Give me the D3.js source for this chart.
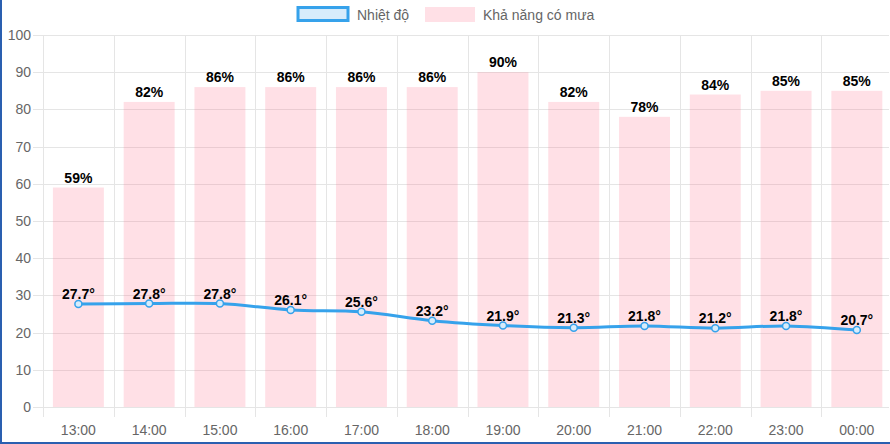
<!DOCTYPE html>
<html><head><meta charset="utf-8">
<script src="https://cdn.jsdelivr.net/npm/d3@7"></script>
<style>
html,body{margin:0;padding:0;background:#fff;}
svg{display:block;font-family:"Liberation Sans",Arial,Helvetica,sans-serif;}
</style></head>
<body>
<svg id="c" width="890" height="444"></svg>
<script>
const categories = ["13:00","14:00","15:00","16:00","17:00","18:00","19:00","20:00","21:00","22:00","23:00","00:00"];
const rainChance = [59,82,86,86,86,86,90,82,78,84,85,85];
const temperature = [27.7,27.8,27.8,26.1,25.6,23.2,21.9,21.3,21.8,21.2,21.8,20.7];
const yTicks = [0,10,20,30,40,50,60,70,80,90,100];
const seriesNames = ["Nhiệt độ","Khả năng có mưa"];

const svg = d3.select("#c");
const W = 890, H = 444;
const m = {left:43, right:1, top:35, bottom:37};
const x = d3.scaleBand().domain(categories).range([m.left, 892.2]);
const y = d3.scaleLinear().domain([0,100]).range([H - m.bottom, m.top]);
const grid = "#e5e5e5";
const txt = "#666";

// frame border (left & bottom)
svg.append("rect").attr("x",0).attr("y",0).attr("width",2).attr("height",H).attr("fill","#2a5fb0");
svg.append("rect").attr("x",0).attr("y",H-2).attr("width",W).attr("height",2).attr("fill","#2a5fb0");

// horizontal grid + y ticks
const gy = svg.append("g");
yTicks.forEach(t => {
  gy.append("line").attr("x1",m.left-10).attr("x2",W-m.right).attr("y1",Math.round(y(t))+0.5).attr("y2",Math.round(y(t))+0.5).attr("stroke",grid).attr("stroke-width",1);
  gy.append("text").attr("x",m.left-12).attr("y",y(t)).attr("dy","0.35em").attr("text-anchor","end")
    .attr("fill",txt).attr("font-size",14).text(t);
});
// vertical grid (offset)
const bounds = categories.map(c => x(c));
bounds.forEach(b => {
  const xx = Math.round(b)+0.5;
  svg.append("line").attr("x1",xx).attr("x2",xx).attr("y1",m.top).attr("y2",H-m.bottom+10).attr("stroke",grid);
});
// x labels
categories.forEach(c => {
  svg.append("text").attr("x",x(c)+x.bandwidth()/2).attr("y",H-m.bottom+28).attr("text-anchor","middle")
    .attr("fill",txt).attr("font-size",14).text(c);
});

// bars
const bw = x.bandwidth()*0.72;
svg.append("g").selectAll("rect").data(rainChance).join("rect")
  .attr("x",(d,i)=>x(categories[i])+(x.bandwidth()-bw)/2)
  .attr("y",d=>y(d)).attr("width",bw).attr("height",d=>y(0)-y(d))
  .attr("fill","rgba(255,99,132,0.2)");

// bar labels
svg.append("g").selectAll("text").data(rainChance).join("text")
  .attr("x",(d,i)=>x(categories[i])+x.bandwidth()/2).attr("y",d=>y(d)-5)
  .attr("text-anchor","middle").attr("font-size",14).attr("font-weight","bold").attr("fill","#000")
  .text(d=>d+"%");

// line
const cx = i => x(categories[i]) + x.bandwidth()/2;
const line = d3.line().x((d,i)=>cx(i)).y(d=>y(d)).curve(d3.curveCatmullRom.alpha(0.5));
svg.append("path").datum(temperature).attr("d",line).attr("fill","none")
  .attr("stroke","rgb(54,162,235)").attr("stroke-width",3);
svg.append("g").selectAll("circle").data(temperature).join("circle")
  .attr("cx",(d,i)=>cx(i)).attr("cy",d=>y(d)).attr("r",3.5)
  .attr("fill","#d7ecfb").attr("stroke","rgb(54,162,235)").attr("stroke-width",1.5);
svg.append("g").selectAll("text").data(temperature).join("text")
  .attr("x",(d,i)=>cx(i)).attr("y",d=>y(d)-5)
  .attr("text-anchor","middle").attr("font-size",14).attr("font-weight","bold").attr("fill","#000")
  .text(d=>d.toFixed(1)+"°");

// legend
const lg = svg.append("g");
lg.append("rect").attr("x",298).attr("y",7.5).attr("width",50).attr("height",13)
  .attr("fill","rgba(54,162,235,0.2)").attr("stroke","rgb(54,162,235)").attr("stroke-width",3);
lg.append("text").attr("x",357).attr("y",15).attr("dy","0.35em").attr("font-size",14).attr("fill",txt).text(seriesNames[0]);
lg.append("rect").attr("x",425).attr("y",7).attr("width",50).attr("height",15)
  .attr("fill","rgba(255,99,132,0.2)");
lg.append("text").attr("x",483).attr("y",15).attr("dy","0.35em").attr("font-size",14).attr("fill",txt).text(seriesNames[1]);
</script>
</body></html>
